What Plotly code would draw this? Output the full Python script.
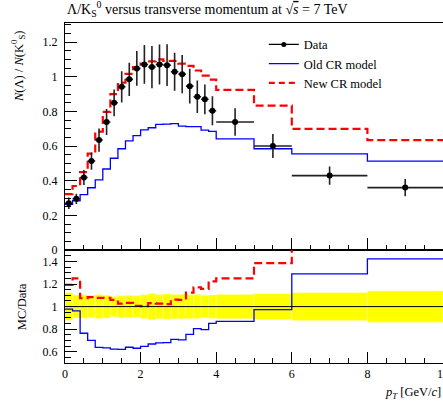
import plotly.graph_objects as go

# ---------------- data ----------------
bin_edges = [0.0, 0.2, 0.4, 0.6, 0.8, 1.0, 1.2, 1.4, 1.6, 1.8, 2.0, 2.2, 2.4, 2.6,
             2.8, 3.0, 3.2, 3.4, 3.6, 3.8, 4.0, 5.0, 6.0, 8.0, 10.0]
data_vals = [0.271, 0.296, 0.419, 0.514, 0.635, 0.739, 0.850, 0.942, 0.985, 1.048,
             1.071, 1.056, 1.071, 1.067, 1.029, 1.015, 0.946, 0.885, 0.870, 0.804,
             0.739, 0.601, 0.430, 0.361]
data_errs = [0.033, 0.030, 0.043, 0.050, 0.067, 0.075, 0.077, 0.090, 0.096, 0.100,
             0.112, 0.122, 0.115, 0.120, 0.110, 0.110, 0.100, 0.094, 0.086, 0.083,
             0.079, 0.069, 0.053, 0.050]
old_cr = [0.265, 0.285, 0.320, 0.360, 0.406, 0.468, 0.530, 0.585, 0.630, 0.661,
          0.694, 0.706, 0.726, 0.727, 0.730, 0.715, 0.713, 0.712, 0.692, 0.685,
          0.642, 0.585, 0.555, 0.514]
new_cr = [0.323, 0.370, 0.450, 0.557, 0.684, 0.797, 0.900, 0.966, 1.017, 1.055,
          1.076, 1.089, 1.100, 1.091, 1.092, 1.076, 1.063, 1.036, 1.006, 0.984,
          0.924, 0.833, 0.700, 0.635]
x_ticks = [0, 2, 4, 6, 8, 10]
main_yticks = [0, 0.2, 0.4, 0.6, 0.8, 1.0, 1.2]
ratio_yticks = [0.6, 0.8, 1.0, 1.2, 1.4]

# ---------------- derived ----------------
centers = [(a + b) / 2 for a, b in zip(bin_edges[:-1], bin_edges[1:])]
halfw = [(b - a) / 2 for a, b in zip(bin_edges[:-1], bin_edges[1:])]
widths = [b - a for a, b in zip(bin_edges[:-1], bin_edges[1:])]
rel = [e / v for e, v in zip(data_errs, data_vals)]
old_ratio = [m / d for m, d in zip(old_cr, data_vals)]
new_ratio = [m / d for m, d in zip(new_cr, data_vals)]

def step(vals):
    return list(bin_edges), list(vals) + [vals[-1]]

FONT = "Liberation Serif"
BLUE = "#0000ff"
RED = "#ff0000"

fig = go.Figure()

# main panel
sx, sy = step(old_cr)
fig.add_trace(go.Scatter(x=sx, y=sy, mode="lines", line=dict(color=BLUE, width=1.3, shape="hv"),
                         showlegend=False, xaxis="x", yaxis="y"))
sx, sy = step(new_cr)
fig.add_trace(go.Scatter(x=sx, y=sy, mode="lines",
                         line=dict(color=RED, width=2.2, shape="hv", dash="8px,4px"),
                         showlegend=False, xaxis="x", yaxis="y"))
fig.add_trace(go.Scatter(x=centers, y=data_vals, mode="markers",
                         marker=dict(color="black", size=6),
                         error_y=dict(type="data", array=data_errs, color="#222222", thickness=1.6, width=0),
                         error_x=dict(type="data", array=halfw, color="#222222", thickness=1.6, width=0),
                         showlegend=False, xaxis="x", yaxis="y"))

# legend entries
fig.add_trace(go.Scatter(x=[None], y=[None], mode="lines+markers", name="Data",
                         line=dict(color="black", width=1.3), marker=dict(color="black", size=5),
                         xaxis="x", yaxis="y"))
fig.add_trace(go.Scatter(x=[None], y=[None], mode="lines", name="Old CR model",
                         line=dict(color=BLUE, width=1.3), xaxis="x", yaxis="y"))
fig.add_trace(go.Scatter(x=[None], y=[None], mode="lines", name="New CR model",
                         line=dict(color=RED, width=2.2, dash="6px,4px"), xaxis="x", yaxis="y"))

# ratio panel
fig.add_trace(go.Bar(x=centers, y=[2 * r for r in rel], base=[1 - r for r in rel], width=widths,
                     marker=dict(color="#ffff00", line=dict(color="#ffffa0", width=0.5)),
                     showlegend=False, xaxis="x2", yaxis="y2"))
sx, sy = step(old_ratio)
fig.add_trace(go.Scatter(x=sx, y=sy, mode="lines", line=dict(color=BLUE, width=1.3, shape="hv"),
                         showlegend=False, xaxis="x2", yaxis="y2"))
sx, sy = step(new_ratio)
fig.add_trace(go.Scatter(x=sx, y=sy, mode="lines",
                         line=dict(color=RED, width=2.2, shape="hv", dash="8px,4px"),
                         showlegend=False, xaxis="x2", yaxis="y2"))

split = 0.3318
axis_common = dict(showgrid=False, zeroline=False, showline=True, linecolor="black", linewidth=1,
                   mirror=True, ticks="inside", tickcolor="black", tickwidth=1, automargin=False,
                   tickfont=dict(family=FONT, size=12, color="black"))

fig.update_layout(
    width=443, height=406,
    margin=dict(l=65, r=0, t=23, b=43),
    paper_bgcolor="white", plot_bgcolor="white",
    barmode="overlay",
    font=dict(family=FONT, size=12, color="black"),
    xaxis=dict(axis_common, range=[0, 10], anchor="y", tickvals=x_ticks, showticklabels=False,
               ticklen=12, minor=dict(dtick=0.5, tick0=0, ticks="inside", ticklen=5, tickcolor="black")),
    yaxis=dict(axis_common, range=[0, 1.31], domain=[split, 1], anchor="x", tickvals=main_yticks,
               ticktext=[("%g" % v) for v in main_yticks], ticklen=12, ticklabelstandoff=4,
               minor=dict(dtick=0.05, tick0=0, ticks="inside", ticklen=6, tickcolor="black")),
    xaxis2=dict(axis_common, range=[0, 10], anchor="y2", matches="x", tickvals=x_ticks,
                ticklabeloverflow="allow",
                ticklen=11, minor=dict(dtick=0.5, tick0=0, ticks="inside", ticklen=5, tickcolor="black")),
    yaxis2=dict(axis_common, range=[0.5, 1.5], domain=[0, split], anchor="x2", tickvals=ratio_yticks,
                ticktext=[("%g" % v) for v in ratio_yticks], ticklen=12, ticklabelstandoff=4,
                minor=dict(dtick=0.05, tick0=0.5, ticks="inside", ticklen=6, tickcolor="black")),
    legend=dict(x=0.526, y=0.98, xanchor="left", yanchor="top", bgcolor="rgba(0,0,0,0)",
                font=dict(family=FONT, size=12.5), itemwidth=30, tracegroupgap=0),
    shapes=[dict(type="line", xref="x2 domain", yref="y2", x0=0, x1=1, y0=1, y1=1,
                 line=dict(color="black", width=1), layer="above")],
    annotations=[
        dict(text="Λ/K<sub>S</sub><sup>0</sup> versus transverse momentum at √<span style='text-decoration:overline'><i>s</i></span> = 7 TeV",
             xref="paper", yref="paper", x=0, y=1.041, xanchor="left", yanchor="middle",
             showarrow=False, font=dict(family=FONT, size=14)),
        dict(text="<i>N</i>(Λ) / <i>N</i>(K<sup>0</sup><sub>S</sub>)", textangle=-90,
             xref="paper", yref="paper", x=-0.124, y=0.871, xanchor="center", yanchor="middle",
             showarrow=False, font=dict(family=FONT, size=12.5)),
        dict(text="MC/Data", textangle=-90,
             xref="paper", yref="paper", x=-0.114, y=0.167, xanchor="center", yanchor="middle",
             showarrow=False, font=dict(family=FONT, size=12.5)),
        dict(text="<i>p<sub>T</sub></i> [GeV/<i>c</i>]",
             xref="paper", yref="paper", x=1, y=-0.087, xanchor="right", yanchor="middle",
             showarrow=False, font=dict(family=FONT, size=12.5)),
    ],
)

fig.write_html("out.html", config={"displayModeBar": False},
               post_script="document.body.style.margin='0px';document.body.style.overflow='hidden';")
